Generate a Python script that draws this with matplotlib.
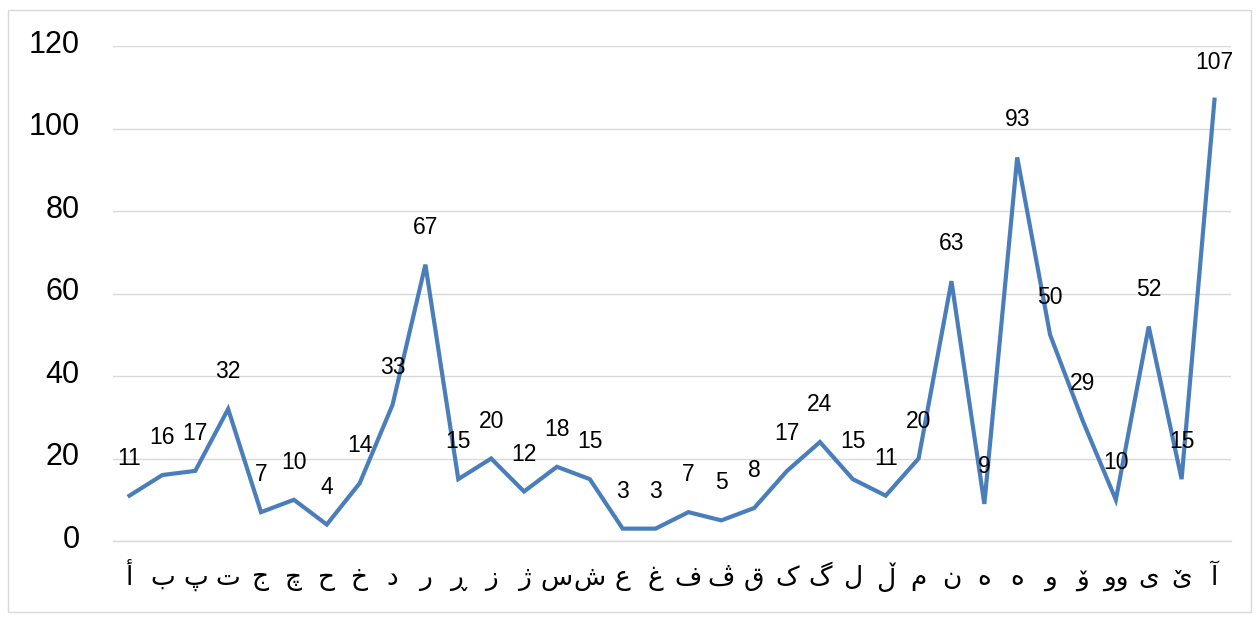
import matplotlib
matplotlib.use("Agg")
import matplotlib.pyplot as plt
import matplotlib.transforms as mtransforms
from matplotlib.patches import Rectangle

plt.rcParams['font.family'] = ['Liberation Sans', 'DejaVu Sans']

# ── Data ──────────────────────────────────────────────────────────────────────
letters = ['أ', 'ب', 'پ', 'ت', 'ج', 'چ', 'ح', 'خ', 'د', 'ر', 'ڕ', 'ز', 'ژ',
           'س', 'ش', 'ع', 'غ', 'ف', 'ڤ', 'ق', 'ک', 'گ', 'ل', 'ڵ', 'م', 'ن',
           'ه', 'ە', 'و', 'ۆ', 'وو', 'ی', 'ێ', 'آ']
counts = [11, 16, 17, 32, 7, 10, 4, 14, 33, 67, 15, 20, 12, 18, 15, 3, 3,
          7, 5, 8, 17, 24, 15, 11, 20, 63, 9, 93, 50, 29, 10, 52, 15, 107]
y_ticks = [0, 20, 40, 60, 80, 100, 120]

# ── Figure ────────────────────────────────────────────────────────────────────
fig = plt.figure(figsize=(12.59, 6.22), dpi=100)
fig.patch.set_facecolor('white')
fig.patches.append(Rectangle((8/1259, 10/622), 1243/1259, 602/622,
                             transform=fig.transFigure, fill=False,
                             edgecolor='#d9d9d9', lw=1.0))

ax = fig.add_axes([0.0898, 0.1302, 0.8879, 0.7958])
x = list(range(len(letters)))
ax.plot(x, counts, color='#4a7ebb', lw=3.0, solid_joinstyle='miter', zorder=3)

for xi, v in zip(x, counts):
    ax.annotate(str(v), xy=(xi, v), xytext=(0, 27), textcoords='offset points',
                ha='center', va='center', fontsize=16.5, color='#000000')

ax.set_xlim(-0.5, len(letters) - 0.5)
ax.set_ylim(0, 120)
ax.set_yticks(y_ticks)
ax.set_yticklabels([str(t) for t in y_ticks], fontsize=22)
ax.set_xticks(x)
ax.set_xticklabels(letters, fontsize=19, family=['DejaVu Sans'])
ax.tick_params(axis='y', length=0, pad=24)
ax.tick_params(axis='x', length=0, pad=17)
ax.grid(axis='y', color='#d9d9d9', lw=1.0)
ax.set_axisbelow(True)
for side in ['top', 'right', 'left']:
    ax.spines[side].set_visible(False)
ax.spines['bottom'].set_color('#d9d9d9')
ax.spines['bottom'].set_linewidth(1.0)

# y labels sit a little above their gridlines
shift = mtransforms.ScaledTranslation(0, 5/100, fig.dpi_scale_trans)
for lab in ax.get_yticklabels():
    lab.set_transform(lab.get_transform() + shift)

fig.savefig('out.png', dpi=100, facecolor='white')
plt.close()
